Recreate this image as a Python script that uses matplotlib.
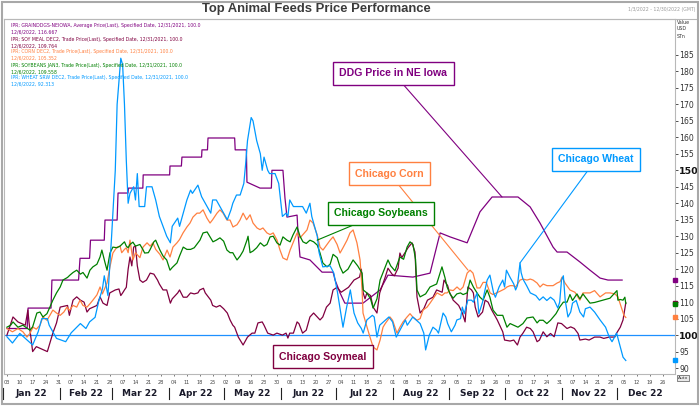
import numpy as np
import matplotlib
matplotlib.use("Agg")
import matplotlib.pyplot as plt
import matplotlib.dates as mdates
from matplotlib.patches import Rectangle
from matplotlib.lines import Line2D
from datetime import datetime, timedelta

# days counted from 1 Jan 2022, value = index (12/31/2021 = 100)
ddg = [(2, 102), (13, 102), (13.5, 108.2), (26, 108.2), (26.5, 116.7), (41, 116.7), (41.8, 123.3),
       (47, 123.3), (47.5, 128.8), (55, 128.8), (55.4, 134.9), (62, 134.9), (62.5, 143.1), (67.9, 143.1),
       (68.2, 144.6), (76, 144.6), (76.2, 148.6), (90.6, 148.6), (90.8, 151.3), (97, 151.3), (97.3, 154),
       (108, 154), (108.2, 156.2), (111.2, 156.2), (111.5, 159.8), (126, 159.8), (126.3, 156.2),
       (132.4, 156.2), (132.7, 146.4), (139.8, 144.6), (146, 144.6), (146.3, 150), (152.3, 150),
       (153.4, 141.6), (154.5, 135.8), (160, 136.4), (160.5, 131), (161.6, 123.7), (167, 122.8),
       (173.6, 119.1), (179.6, 119.1), (180.7, 116.7), (183.4, 112.8), (186, 109.7), (195.9, 109.7),
       (205.2, 113.7), (209.5, 118.2), (223.1, 117.6), (232.4, 118.8), (237.9, 131), (243.3, 129.8),
       (252.6, 128), (259.6, 137.4), (266.2, 141.9), (280.3, 141.9), (286.9, 138.9), (292.3, 134),
       (299.4, 126.7), (301.6, 125.2), (307, 125.2), (314, 122.2), (319.5, 119.7), (325, 117.3),
       (329.3, 116.7), (337, 116.7)]

soymeal = [(2, 100), (5.3, 105.5), (8, 104), (12, 103), (13.4, 107.6), (14, 104), (16, 95), (18, 96.5),
           (20, 96), (22, 95.5), (24, 95), (25.4, 97.6), (27, 100.6), (29, 103.7), (31, 108.5), (35, 109),
           (36, 106), (38, 110.6), (40, 111.6), (42, 110.6), (44, 110), (45.6, 107), (47, 108), (51, 109),
           (52.7, 111.6), (54.3, 109.7), (56.5, 109), (58, 112.8), (61, 113.7), (63, 114), (64, 112),
           (65, 112.8), (66, 113.7), (67, 114.5), (68, 120), (69, 123.7), (70, 121), (71, 126.7), (72, 127),
           (73, 121), (74.4, 116.7), (76, 116), (78, 116.7), (80, 118.8), (82, 118.5), (84, 116.7),
           (85, 115.5), (87, 113.7), (89, 113.7), (91, 109.7), (92, 111), (95, 112.8), (96, 113.7),
           (98, 111.5), (100, 111.5), (102, 112.8), (104, 112.5), (106, 112.8), (107, 113.7), (109, 114.2),
           (110, 112.8), (113, 110.6), (114, 109), (116, 108.5), (118, 109), (120, 108), (122, 106.7),
           (123.5, 104.6), (125, 103), (126, 102.4), (128, 99.4), (130.6, 97), (133, 99.4), (135.5, 100.6),
           (137, 100.6), (138.7, 103.7), (141, 104), (142, 103), (144, 100.6), (147, 100), (149, 100.6),
           (152, 100), (154, 100.6), (155, 99.1), (156, 100.6), (158, 100.6), (160, 104), (161, 103.5),
           (163, 100.6), (165, 101.5), (167, 105.5), (169, 106.7), (171, 105.5), (172.5, 104.6),
           (174, 105.5), (176, 108.5), (178, 109.7), (179.6, 113.7), (181.8, 114.5), (184, 113),
           (188, 114.5), (191, 116.7), (194, 117.6), (195, 120), (196, 112.8), (197, 111), (198, 112.8),
           (200, 112), (201.4, 108.5), (203.5, 106.7), (205, 112.8), (208, 117.6), (209.5, 120.3),
           (211.7, 118.5), (213, 118), (215, 120.3), (216, 124.9), (217, 123.5), (219, 125.2),
           (220.4, 126.5), (222.6, 128), (224.2, 125.2), (225.3, 111.6), (227, 106.7), (229, 108),
           (231, 110.6), (234, 111.5), (236, 113.7), (239, 113), (240, 116.7), (242, 115), (243, 113),
           (245, 110.6), (248, 109), (250, 106.7), (251.5, 104), (253, 114.6), (255, 113.7), (256, 112.8),
           (257, 108.5), (258.6, 105.5), (261, 107), (262.4, 110.6), (264, 110), (266, 107.6),
           (269, 104.6), (272, 101), (273, 98.5), (276, 98.2), (278, 98.5), (280, 97), (281.4, 99.4),
           (283, 100.6), (285, 102.4), (287, 102), (288.5, 101), (290.7, 98), (292, 98.5), (294, 101),
           (296, 99.5), (298, 100.5), (300, 99.5), (302, 103.7), (304, 103.5), (305, 103), (307, 102),
           (309, 102.5), (311, 102), (313, 100.5), (314, 98.5), (317, 98.8), (319, 98.5), (322, 99.4),
           (325, 99.4), (327, 99), (330, 99.4), (333, 99.4), (334, 100.6), (336, 102.4), (337.5, 104.6),
           (339, 109.8)]

corn = [(2, 102), (5, 101), (8, 102), (10.7, 101), (12.9, 99.4), (14.5, 100.5), (16.2, 102.4), (18, 101.8),
        (20, 103), (21.6, 105.5), (23.8, 104.5), (25.4, 106), (27, 107.6), (29, 106.7), (31, 106),
        (33, 107), (34.7, 108.5), (36, 107.5), (38, 109), (40, 108.5), (41.8, 110.6), (43.4, 109),
        (45.6, 108.5), (47.2, 109.5), (48.8, 110.6), (51, 112.2), (52.7, 114.6), (54, 112.5),
        (56.5, 115.8), (58.1, 120.7), (59.7, 124.9), (61.9, 126.7), (63.6, 127), (64.5, 125), (66, 126),
        (67, 126.5), (68, 125), (69, 128.8), (70.6, 122.8), (72, 125), (74.4, 123.5), (76.1, 126.7),
        (78.3, 128), (80, 127), (81.5, 128), (83, 126), (85.3, 124.5), (87, 122.8), (89.2, 125.8),
        (90.8, 123.7), (92.4, 126.7), (94.6, 128), (96, 129), (97.9, 131), (100, 132.8), (101.7, 134),
        (103.3, 135.8), (105.5, 137), (107, 137), (108.8, 138), (110.9, 135.5), (112.6, 134), (114, 135),
        (116.4, 137), (118, 138), (119.7, 137), (121.8, 134.9), (123.5, 134.9), (125.1, 132.8),
        (127.3, 133.5), (128.9, 134.9), (130.6, 137), (132.5, 135), (134.4, 136.5), (136, 134),
        (138.2, 132.5), (139.8, 132), (141.4, 132.5), (143.6, 131), (145.3, 130.5), (147, 131),
        (149.1, 128.8), (150.7, 125.8), (152.3, 123.4), (154.5, 122.8), (156.2, 125.8), (157.8, 128),
        (160, 131), (161.6, 129.5), (163.2, 130.5), (165.4, 131.9), (167, 134.9), (168.7, 134),
        (170.9, 130.5), (172.5, 126.7), (174.1, 125.8), (176.3, 127.5), (178, 128.8), (179.6, 129.8),
        (181.8, 127.5), (183.4, 124.9), (185, 126.5), (187.2, 128.8), (188.8, 131), (190.5, 131.9),
        (192.6, 128), (194.3, 122.8), (195.4, 113.7), (195.9, 106.7), (198.1, 102.4), (199.7, 99.4),
        (201.4, 96.4), (203.5, 95.5), (205.2, 98.5), (206.8, 102.4), (208, 103.5), (210.6, 105.5),
        (212, 104.5), (214.4, 100.6), (216, 102.4), (217.7, 104), (219.9, 105.5), (221.5, 106.5),
        (223, 105.5), (225.3, 104.5), (227, 105), (228.6, 107.6), (230.8, 108.5), (232.4, 109.7),
        (234, 111), (236.2, 112.8), (238.9, 112), (240.5, 112.8), (241.7, 112.8), (243.3, 113.7),
        (245, 113.5), (247.1, 114.6), (248.8, 113.7), (250.4, 114.6), (252.6, 118.8), (254.2, 119.7),
        (255.8, 118.8), (258, 114.3), (259.6, 114.3), (261.3, 116), (263, 116), (265.1, 112.8),
        (266.7, 112.3), (270.5, 113.3), (273, 114), (274.3, 114.6), (276, 115), (277.6, 115),
        (279, 114.6), (281.4, 116.7), (283, 117), (285.2, 116.7), (287, 117), (288.5, 116.7),
        (290.7, 115.8), (292.3, 114.6), (294, 115.5), (296.1, 115), (298, 115), (299.4, 115),
        (301.6, 115.8), (303.2, 116.2), (304.3, 117.6), (305.9, 115.8), (308.6, 113.7), (311.3, 113),
        (314, 110.6), (315.7, 112.8), (319.5, 112.8), (322, 113.5), (325, 111.6), (328, 112.8),
        (330.4, 112.8), (333.1, 112.5), (334.7, 111.6), (336.5, 108.5), (338, 106), (339, 105.35)]

soybeans = [(2, 102.4), (4, 103), (5.3, 104), (8, 102.4), (10.7, 103), (14.5, 101.5), (16, 102.5),
            (18.3, 106.7), (20, 107), (21.6, 105.5), (23.8, 106.5), (25.4, 108.5), (27, 110.6),
            (29, 112.8), (31, 114.6), (32.5, 116.7), (35, 117.5), (36.3, 118.2), (38, 119), (40, 119.7),
            (42, 118.5), (43.4, 119), (45.6, 117.3), (47.2, 119.7), (48.8, 120.7), (51, 121.5),
            (52.7, 123.7), (53.7, 125.8), (55.4, 122), (56.5, 119.7), (58.1, 124.9), (59.7, 126.7),
            (61.9, 126.5), (63.6, 127), (66, 128.3), (67, 127), (68, 126.5), (69, 127.5), (70.6, 128.2),
            (72, 127), (74.4, 127.5), (76, 126), (77, 124.9), (79, 125), (80, 126), (82, 128.3),
            (83, 128.8), (84, 127.5), (85.3, 125.8), (87, 124), (89, 122.8), (90.8, 119.7), (92, 120.5),
            (94.6, 121.9), (96, 124), (98, 126.7), (100, 126), (102, 126), (104, 126.5), (106, 128),
            (107.1, 128.8), (108.8, 131), (111, 131.3), (112.6, 129.8), (114.2, 128.3), (116, 128.8),
            (118, 129.5), (120, 128.5), (121.8, 125.8), (123.5, 125), (125, 125), (126, 124),
            (127.3, 122.8), (129, 124), (130.6, 125.5), (132.7, 128.8), (133.3, 130), (134.4, 125),
            (136, 125.5), (138, 126.5), (140, 128), (142, 127), (143.6, 127.5), (145.3, 129.8),
            (147, 130), (149, 128), (150.7, 127.3), (152.3, 129.8), (154.5, 128.8), (156.2, 128.3),
            (157.8, 130.4), (160, 132.8), (161.6, 130), (163.2, 128.3), (165, 127.8), (167, 128.8),
            (169, 128.3), (171, 127.3), (172.5, 124.9), (174, 121.9), (176.3, 120.7), (178, 121.5),
            (179.6, 124.5), (181.8, 123.5), (183.4, 120.7), (185, 118.8), (187.7, 120), (190.5, 122.8),
            (193, 121), (195.4, 118.8), (196, 113.7), (198, 112.8), (200, 111), (201.4, 108.2),
            (203.5, 111), (205.2, 116.7), (208, 120.7), (209.5, 122.8), (211, 121), (213.3, 119.5),
            (216, 123.7), (218, 123), (219.9, 126.7), (221.5, 128.3), (223.1, 127.5), (224.5, 123),
            (225.3, 113.7), (227, 111.6), (230, 112.5), (232.4, 114.6), (236, 115.5), (238.9, 120.7),
            (240.5, 117.5), (241.7, 114.6), (243.3, 112.5), (245, 111.2), (247, 112.5), (249, 112.8),
            (250.4, 112.3), (252.6, 112.8), (254.2, 116.7), (256, 114.6), (258, 112.8), (259.6, 111.5),
            (261.3, 110.6), (263.5, 113.7), (265, 111.5), (266.7, 107.6), (269, 106), (272, 106),
            (274.3, 102.4), (276, 103.5), (278, 103), (280.3, 102.4), (283, 103.5), (285.2, 105.2),
            (288.5, 105.5), (290.7, 103.7), (292, 104.5), (294, 104.5), (296, 103.5), (298, 104.5),
            (301, 106.5), (303, 108.5), (305, 110), (307, 110), (308.6, 112.3), (310, 110.5),
            (312.4, 112.5), (314, 111), (315.7, 112.5), (317, 111.5), (319.5, 109.7), (322, 109.9),
            (326.6, 110.6), (330.4, 111.2), (333.1, 112.8), (334.2, 113.5), (334.7, 110.6), (336, 110.8),
            (337.5, 110.6), (338.5, 111.5), (339, 109.6)]

wheat = [(2, 99.5), (5, 97.6), (9, 100.5), (12, 99), (16, 97), (19, 101), (21, 105), (24, 105), (25, 103),
         (29, 99), (34, 98), (37, 100.7), (42, 103.5), (45, 102), (47, 104), (50, 105.4), (52, 110.3),
         (54, 114), (55, 118), (57, 112), (59, 130), (61, 150), (62, 170), (64, 184), (65, 182), (66, 170),
         (67, 153), (68, 140), (69, 143), (71, 145), (72, 141), (73, 149), (74, 139), (77, 139), (78, 145),
         (81, 145), (83, 141), (85, 136), (87, 133), (89, 130), (91, 128), (92, 133), (95, 135.5),
         (96, 133), (98, 137), (100, 141), (102, 144), (103, 143), (106, 145.5), (108, 142), (111, 139),
         (113, 137), (114, 141), (116, 141), (118, 139), (120, 137), (122, 135), (124, 138), (125, 140),
         (127, 142.5), (129, 142.5), (131, 146), (132, 152), (133, 159), (135, 166), (136, 165),
         (138, 159), (140, 155), (141, 150), (142, 154), (144, 150), (145, 149), (148, 149), (150, 146),
         (151, 141), (152, 136), (154, 137), (155, 136), (156, 141), (158, 139), (163, 139), (165, 137),
         (167, 140), (168, 136), (171, 130), (172, 125), (174, 120.7), (178, 121), (180, 118.8),
         (182, 113), (185, 102.4), (187, 108.5), (189, 113.7), (191, 106.7), (193, 103.7), (195, 102),
         (196, 100.6), (198, 104.6), (201, 106), (202, 105.5), (203.5, 99.4), (205, 103), (207, 104),
         (210, 105.5), (212, 104), (214, 99.4), (216, 101.5), (219, 104.6), (220, 103), (223, 105.5),
         (225, 104.5), (227, 103.5), (229, 100.6), (230, 95.5), (232, 100), (234, 102.4), (236, 101.5),
         (237, 100.6), (239.5, 106.7), (241, 105.5), (242, 103.5), (244, 101), (246, 103), (247, 104.6),
         (249, 105), (250, 108.5), (251, 106.5), (253, 110.6), (255, 110.6), (256, 110), (258, 112.8),
         (259, 106.5), (261, 110), (262, 112.8), (263.5, 116.7), (265, 118.2), (267, 112.8),
         (268, 111.5), (270, 114.6), (272, 116.7), (273, 114.6), (274, 119.7), (276, 117.5),
         (278, 115.5), (279, 113.7), (280, 115), (281.4, 121.9), (282, 119), (283, 117), (285, 115),
         (287, 112.8), (290, 112), (292, 110.6), (294, 111.6), (296, 110.5), (298, 111.5), (300, 110.6),
         (302, 108.2), (303, 110), (304, 116.7), (305, 118), (306, 110.6), (307.5, 105.5), (309, 107),
         (310, 109.7), (312, 110.5), (314, 107), (316, 105.5), (317, 108), (319.5, 108.5), (322, 107),
         (325, 104.6), (328, 102.4), (330, 99.4), (331.5, 98), (333, 99.5), (334, 100.6), (336, 96.4),
         (337.5, 93.3), (339, 92.3)]

last_values = {"ddg": 116.667, "soymeal": 109.764, "corn": 105.352, "soybeans": 109.558, "wheat": 92.313}

legend_lines = [
    ("IPR; GRAINDDGS-NEIOWA, Average Price(Last), Specified Date, 12/31/2021, 100.0", "12/6/2022, 116.667"),
    ("IPR; SOY MEAL DEC2, Trade Price(Last), Specified Date, 12/31/2021, 100.0", "12/6/2022, 109.764"),
    ("IPR; CORN DEC2, Trade Price(Last), Specified Date, 12/31/2021, 100.0", "12/6/2022, 105.352"),
    ("IPR; SOYBEANS JAN3, Trade Price(Last), Specified Date, 12/31/2021, 100.0", "12/6/2022, 109.558"),
    ("IPR; WHEAT SRW DEC2, Trade Price(Last), Specified Date, 12/31/2021, 100.0", "12/6/2022, 92.313"),
]

colors = {"ddg": "#800080", "soymeal": "#800040", "corn": "#ff8040",
          "soybeans": "#008000", "wheat": "#0099ff"}

plt.rcParams["font.family"] = ["DejaVu Sans"]
base = mdates.date2num(datetime(2022, 1, 1))

fig = plt.figure(figsize=(7, 4.07), dpi=100)
ax = fig.add_axes([4 / 700, 1 - 374 / 407, 671 / 700, 355 / 407])

ax.axhline(100, color="#1e90ff", lw=0.9, zorder=1)

series = [("ddg", ddg), ("soymeal", soymeal), ("corn", corn), ("soybeans", soybeans), ("wheat", wheat)]
for key, pts in series:
    d, v = zip(*pts)
    ax.plot(base + np.array(d), v, color=colors[key], lw=0.9, zorder=3)

ax.set_xlim(base + 0.4, base + 365.8)
ax.set_ylim(88.2, 195.9)

# last value markers on the right axis
for key, val in last_values.items():
    ax.plot([1.0], [val], marker="s", ms=2.2, color=colors[key], transform=ax.get_yaxis_transform(),
            clip_on=False, zorder=5)

# right value axis
ax.yaxis.tick_right()
ax.set_yticks(np.arange(90, 190, 5))
ax.tick_params(axis="y", labelsize=5.6, length=2, pad=1, colors="#333333", width=0.6)
for lab in ax.get_yticklabels():
    if lab.get_text() in ("100", "150"):
        lab.set_fontweight("bold")
        lab.set_fontsize(6.8)
        lab.set_color("#111111")

# weekly day ticks + month labels
mondays = [datetime(2022, 1, 3) + timedelta(days=7 * i) for i in range(52)]
ax.set_xticks(mdates.date2num(mondays))
ax.set_xticklabels([f"{m.day:02d}" for m in mondays])
ax.tick_params(axis="x", labelsize=3.6, length=1.5, pad=2.5, colors="#444444", width=0.5)

trans = ax.get_xaxis_transform()
for m in range(1, 13):
    start = datetime(2022, m, 1)
    end = datetime(2022 + (m == 12), m % 12 + 1, 1)
    mid = mdates.date2num(start) + (mdates.date2num(end) - mdates.date2num(start)) / 2
    ax.text(mid, -0.054, start.strftime("%b") + " 22", transform=trans, ha="center", va="center",
            fontsize=6.5, fontweight="bold", color="#1a1a2a")
    ax.plot([mdates.date2num(start)] * 2, [-0.04, -0.07], transform=trans, color="#222222",
            lw=0.8, clip_on=False)

for s in ax.spines.values():
    s.set_color("#b8b8b8")
    s.set_linewidth(0.8)

# callout labels
callouts = [
    ("DDG Price in NE Iowa", "ddg", (212.5, 179.4), (271.6, 141.9)),
    ("Chicago Corn", "corn", (210.3, 149.0), (253.1, 119.7)),
    ("Chicago Soybeans", "soybeans", (205.7, 136.9), (170.9, 128.8)),
    ("Chicago Wheat", "wheat", (322.8, 153.3), (281.4, 121.9)),
    ("Chicago Soymeal", "soymeal", (173.9, 93.5), None),
]
for text, key, (tx, ty), target in callouts:
    kw = dict(fontsize=7.6, fontweight="bold", color=colors[key], ha="center", va="center",
              family=["Liberation Sans", "DejaVu Sans"],
              bbox=dict(boxstyle="square,pad=0.6", fc="white", ec=colors[key], lw=1.0), zorder=6)
    if target is None:
        ax.text(base + tx, ty, text, **kw)
    else:
        ax.annotate(text, xy=(base + target[0], target[1]), xytext=(base + tx, ty),
                    arrowprops=dict(arrowstyle="-", color=colors[key], lw=0.8,
                                    shrinkA=0, shrinkB=0), **kw)

# header legend text
y0 = 1 - 26 / 407
for i, (l1, l2) in enumerate(legend_lines):
    c = list(colors.values())[i]
    fig.text(11 / 700, y0 - (2 * i) * 6.5 / 407, l1, fontsize=3.3, color=c, va="center")
    fig.text(11 / 700, y0 - (2 * i + 1) * 6.5 / 407, l2, fontsize=3.3, color=c, va="center")

fig.text(316 / 700, 1 - 9 / 407, "Top Animal Feeds Price Performance", ha="center", va="center",
         fontsize=9.4, fontweight="bold", color="#3a3a3a",
         family=["Liberation Sans Narrow", "Liberation Sans", "DejaVu Sans"])
fig.text(696 / 700, 1 - 9 / 407, "1/3/2022 - 12/30/2022 (GMT)", ha="right", va="center",
         fontsize=3.3, color="#999999")
fig.text(677 / 700, 1 - 29 / 407, "Value\nUSD\nSTn", ha="left", va="center", fontsize=3.4,
         color="#333333", linespacing=1.5)
fig.text(683 / 700, 1 - 378 / 407, "Auto", ha="center", va="center", fontsize=3.2, color="#333333",
         bbox=dict(boxstyle="square,pad=0.2", fc="#e8e8e8", ec="#555555", lw=0.5))

fig.add_artist(Line2D([4 / 700, 696 / 700], [1 - 19 / 407] * 2, color="#b8b8b8", lw=0.8))
fig.add_artist(Rectangle((1.5 / 700, 3 / 407), 696 / 700, 402 / 407, fill=False, ec="#a8a8a8",
                         lw=1.5, transform=fig.transFigure))

fig.savefig("out.png", dpi=100)
